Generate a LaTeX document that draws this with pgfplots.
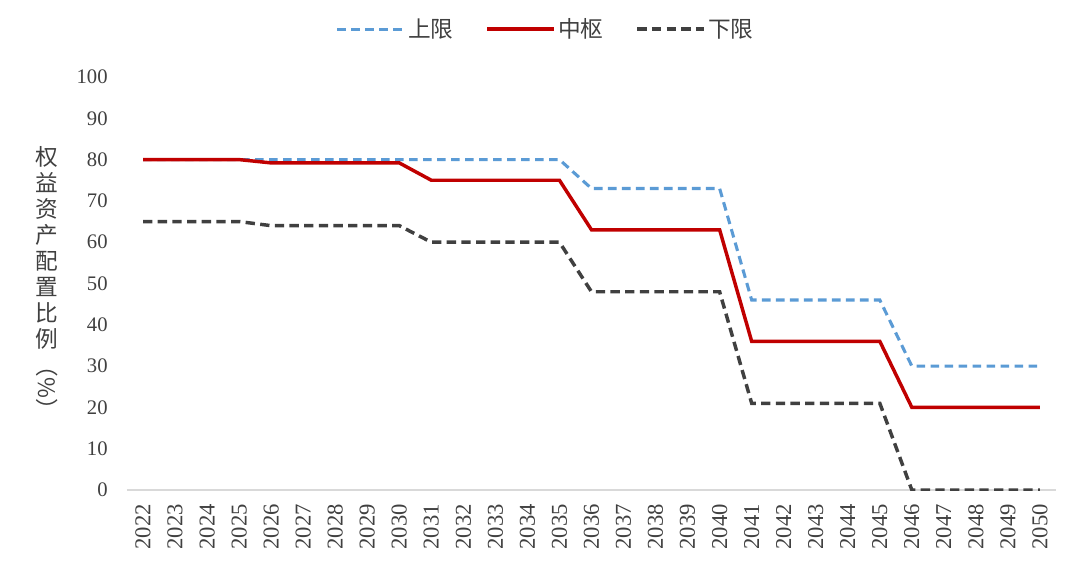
\documentclass[border=0pt]{standalone}
\usepackage{pgfplots}
\pgfplotsset{compat=1.18}
\usepackage{fontspec}
\setmainfont{Liberation Serif}
\newfontfamily\cjk{Noto Sans CJK SC}
\definecolor{cUp}{HTML}{5B9BD5}
\definecolor{cMid}{HTML}{C00000}
\definecolor{cLow}{HTML}{404040}
\definecolor{txt}{HTML}{404040}
\begin{document}
\begin{tikzpicture}
\path[use as bounding box] (-95.25pt,-58.5pt) rectangle (714.75pt,367.5pt);
\begin{axis}[
  at={(0,0)}, anchor=south west,
  scale only axis, width=696.75pt, height=309.75pt,
  xmin=2021.5, xmax=2050.5, ymin=0, ymax=100,
  xtick={2022,...,2050}, ytick={0,10,...,100},
  major tick length=0pt,
  axis lines*=left,
  y axis line style={draw=none},
  x axis line style={-, draw=black!15, line width=1pt},
  /pgf/number format/assume math mode=true,
  /pgf/number format/1000 sep={},
  tick label style={font=\fontsize{15.5pt}{18pt}\selectfont, text=txt},
  xticklabel style={rotate=90, anchor=east, font=\fontsize{17pt}{20pt}\selectfont},
  xticklabel shift=7pt,
  yticklabel style={anchor=east},
  yticklabel shift=11pt,
  legend columns=3,
  legend style={at={(0.451,1.116)}, anchor=center, draw=none, fill=none,
    font=\cjk\fontsize{17pt}{20pt}\selectfont, text=txt,
    /tikz/every even column/.append style={column sep=22pt}},
  legend image code/.code={\draw[#1] (0pt,0pt) -- (50pt,0pt);},
]
\addplot[cUp, line width=2.3pt, dash pattern=on 6.5pt off 4pt] table {
x y
2022 80
2023 80
2024 80
2025 80
2026 80
2027 80
2028 80
2029 80
2030 80
2031 80
2032 80
2033 80
2034 80
2035 80
2036 73
2037 73
2038 73
2039 73
2040 73
2041 46
2042 46
2043 46
2044 46
2045 46
2046 30
2047 30
2048 30
2049 30
2050 30
};
\addlegendentry{上限}
\addplot[cMid, line width=2.6pt] table {
x y
2022 80
2023 80
2024 80
2025 80
2026 79.2
2027 79.2
2028 79.2
2029 79.2
2030 79.2
2031 75
2032 75
2033 75
2034 75
2035 75
2036 63
2037 63
2038 63
2039 63
2040 63
2041 36
2042 36
2043 36
2044 36
2045 36
2046 20
2047 20
2048 20
2049 20
2050 20
};
\addlegendentry{中枢}
\addplot[cLow, line width=2.6pt, dash pattern=on 7pt off 4pt] table {
x y
2022 65
2023 65
2024 65
2025 65
2026 64
2027 64
2028 64
2029 64
2030 64
2031 60
2032 60
2033 60
2034 60
2035 60
2036 48
2037 48
2038 48
2039 48
2040 48
2041 21
2042 21
2043 21
2044 21
2045 21
2046 0
2047 0
2048 0
2049 0
2050 0
};
\addlegendentry{下限}
\end{axis}
\node[anchor=north, align=center, inner sep=0pt, text=txt,
  font=\cjk\fontsize{17pt}{19.5pt}\selectfont] at (-60pt,258pt)
  {权\\益\\资\\产\\配\\置\\比\\例\\[-14pt]\rotatebox{-90}{（\%）}};
\end{tikzpicture}
\end{document}
